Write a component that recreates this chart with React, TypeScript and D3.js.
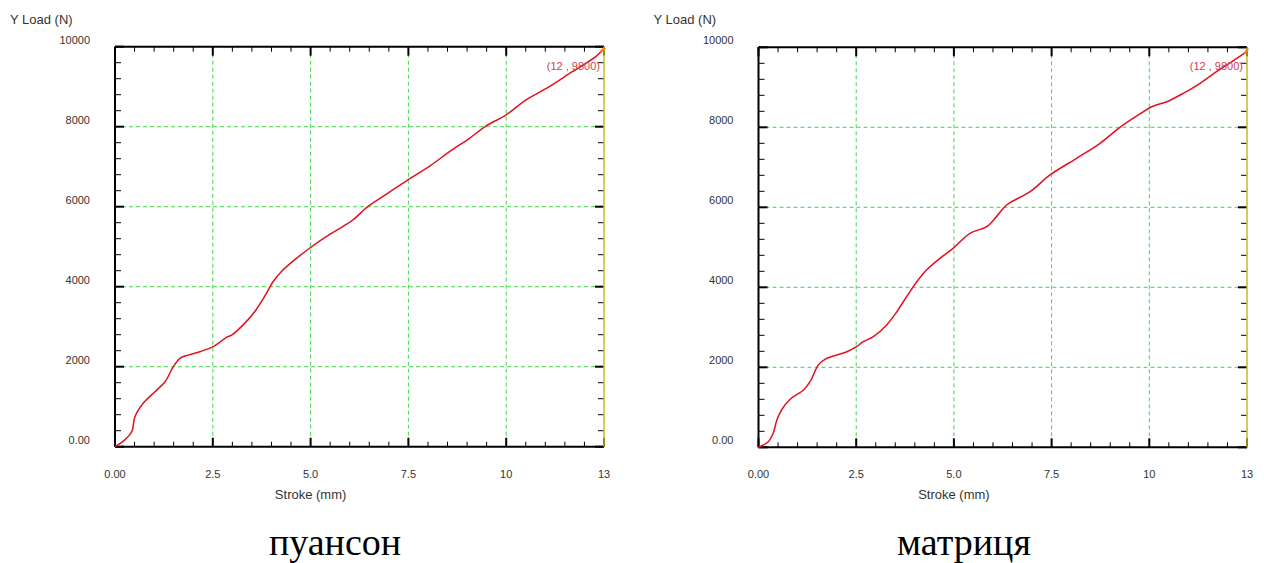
import React, { useEffect, useRef } from "react";
import { select, scaleLinear, line, curveCatmullRom, range } from "d3";

// punch (пуансон) curve
const punchStroke = [
  0, 0.25, 0.43, 0.51, 0.72, 1.02, 1.28, 1.49, 1.66, 1.87, 2.17, 2.51, 2.85,
  2.98, 3.27, 3.57, 3.87, 4.04, 4.25, 4.64, 5.0, 5.4, 5.82, 6.08, 6.46, 6.97,
  7.48, 8.08, 8.55, 9.06, 9.48, 9.99, 10.5, 11.1, 11.69, 12.29, 12.46,
];
const punchLoad = [
  0, 170, 380, 750, 1085, 1375, 1625, 2000, 2210, 2290, 2375, 2500, 2735, 2790,
  3040, 3375, 3835, 4125, 4375, 4710, 4980, 5250, 5500, 5667, 6000, 6335, 6667,
  7040, 7375, 7710, 8017, 8290, 8667, 9000, 9375, 9750, 9917,
];

// die (матриця) curve
const dieStroke = [
  0, 0.25, 0.38, 0.47, 0.59, 0.81, 1.15, 1.32, 1.53, 1.7, 2.0, 2.26, 2.51,
  2.68, 2.94, 3.28, 3.54, 3.79, 4.05, 4.3, 4.64, 4.98, 5.41, 5.84, 6.09, 6.35,
  6.95, 7.46, 8.14, 8.74, 9.25, 9.76, 10.06, 10.45, 10.87, 11.3, 11.72, 12.24,
  12.49,
];
const dieLoad = [
  0, 140, 365, 683, 933, 1200, 1433, 1640, 2058, 2200, 2308, 2390, 2515, 2640,
  2765, 3058, 3390, 3765, 4140, 4433, 4725, 4975, 5350, 5517, 5767, 6058, 6390,
  6808, 7225, 7600, 8000, 8333, 8515, 8640, 8850, 9100, 9390, 9725, 9890,
];

const xTicks = [0, 2.5, 5, 7.5, 10, 12.5];
const xTickLabels = ["0.00", "2.5", "5.0", "7.5", "10", "13"];
const yTicks = [0, 2000, 4000, 6000, 8000, 10000];
const yTickLabels = ["0.00", "2000", "4000", "6000", "8000", "10000"];
const captions = ["пуансон", "матриця"];
const peakLabel = "(12 , 9800)";

const sans = "Arial, 'Liberation Sans', sans-serif";

const drawChart = (svg, stroke, load, left, top, right, bottom, caption, captionX) => {
  const x = scaleLinear().domain([0, 12.5]).range([left, right]);
  const y = scaleLinear().domain([0, 10000]).range([bottom, top]);
  const g = svg.append("g");

  // grid
  xTicks.slice(1, -1).forEach((t) => {
    g.append("line")
      .attr("x1", x(t)).attr("x2", x(t))
      .attr("y1", top).attr("y2", bottom)
      .attr("stroke", "#3fd84a").attr("stroke-dasharray", "4,3");
  });
  yTicks.slice(1, -1).forEach((t) => {
    g.append("line")
      .attr("x1", left).attr("x2", right)
      .attr("y1", y(t)).attr("y2", y(t))
      .attr("stroke", "#3fd84a").attr("stroke-dasharray", "4,3");
  });

  // ticks, pointing inward
  range(0, 12.51, 0.5).forEach((t) => {
    const major = Math.abs(t / 2.5 - Math.round(t / 2.5)) < 1e-6;
    const len = major ? 9 : 5;
    const w = major ? 2 : 1;
    g.append("line").attr("x1", x(t)).attr("x2", x(t))
      .attr("y1", bottom).attr("y2", bottom - len)
      .attr("stroke", "#000").attr("stroke-width", w);
    g.append("line").attr("x1", x(t)).attr("x2", x(t))
      .attr("y1", top).attr("y2", top + len)
      .attr("stroke", "#000").attr("stroke-width", w);
  });
  range(0, 10001, 400).forEach((t) => {
    const major = t % 2000 === 0;
    const len = major ? 9 : 6;
    const w = major ? 2 : 1;
    g.append("line").attr("x1", left).attr("x2", left + len)
      .attr("y1", y(t)).attr("y2", y(t))
      .attr("stroke", "#000").attr("stroke-width", w);
    g.append("line").attr("x1", right).attr("x2", right - len)
      .attr("y1", y(t)).attr("y2", y(t))
      .attr("stroke", "#000").attr("stroke-width", w);
  });

  // frame
  g.append("line").attr("x1", left).attr("x2", right).attr("y1", top).attr("y2", top)
    .attr("stroke", "#000").attr("stroke-width", 2);
  g.append("line").attr("x1", left).attr("x2", right).attr("y1", bottom).attr("y2", bottom)
    .attr("stroke", "#000").attr("stroke-width", 2);
  g.append("line").attr("x1", left).attr("x2", left).attr("y1", top).attr("y2", bottom)
    .attr("stroke", "#000").attr("stroke-width", 2);
  g.append("line").attr("x1", right).attr("x2", right).attr("y1", top).attr("y2", bottom)
    .attr("stroke", "#c8b820").attr("stroke-width", 1.5);

  // labels
  xTicks.forEach((t, i) => {
    g.append("text").attr("x", x(t)).attr("y", bottom + 31)
      .attr("text-anchor", "middle").attr("font-family", sans)
      .attr("font-size", 11).attr("fill", "#333").text(xTickLabels[i]);
  });
  yTicks.forEach((t, i) => {
    g.append("text").attr("x", left - 25).attr("y", y(t) - 3)
      .attr("text-anchor", "end").attr("font-family", sans)
      .attr("font-size", 11).attr("fill", "#333").text(yTickLabels[i]);
  });
  g.append("text").attr("x", left - 105).attr("y", 24)
    .attr("font-family", sans).attr("font-size", 13).attr("fill", "#333")
    .text("Y Load (N)");
  g.append("text").attr("x", x(5)).attr("y", bottom + 52)
    .attr("text-anchor", "middle").attr("font-family", sans)
    .attr("font-size", 13).attr("fill", "#333").text("Stroke (mm)");

  // curve
  const pts = stroke.map((s, i) => [x(s), y(load[i])]);
  g.append("path")
    .attr("d", line().curve(curveCatmullRom)(pts))
    .attr("fill", "none").attr("stroke", "#e3101e").attr("stroke-width", 1.5);
  const last = pts[pts.length - 1];
  g.append("path")
    .attr("d", `M${last[0] - 2},${last[1] + 2}L${right + 1},${top + 1}`)
    .attr("stroke", "#f08a10").attr("stroke-width", 2.5);
  g.append("text").attr("x", right - 4).attr("y", top + 23)
    .attr("text-anchor", "end").attr("font-family", sans)
    .attr("font-size", 11).attr("fill", "#d04050").text(peakLabel);

  svg.append("text").attr("x", captionX).attr("y", 555)
    .attr("text-anchor", "middle")
    .attr("font-family", "'Liberation Serif', 'Times New Roman', serif")
    .attr("font-size", 38).attr("fill", "#000").text(caption);
};

const App = () => {
  const ref = useRef(null);
  useEffect(() => {
    const svg = select(ref.current);
    svg.selectAll("*").remove();
    drawChart(svg, punchStroke, punchLoad, 115, 46.7, 604, 446.7, captions[0], 335);
    drawChart(svg, dieStroke, dieLoad, 758.5, 47.3, 1247, 447.3, captions[1], 964);
  }, []);
  return (
    <div style={{ position: "absolute", left: 0, top: 0 }}>
      <svg ref={ref} width={1264} height={563} style={{ display: "block", background: "#fff" }}></svg>
    </div>
  );
};

export default App;
